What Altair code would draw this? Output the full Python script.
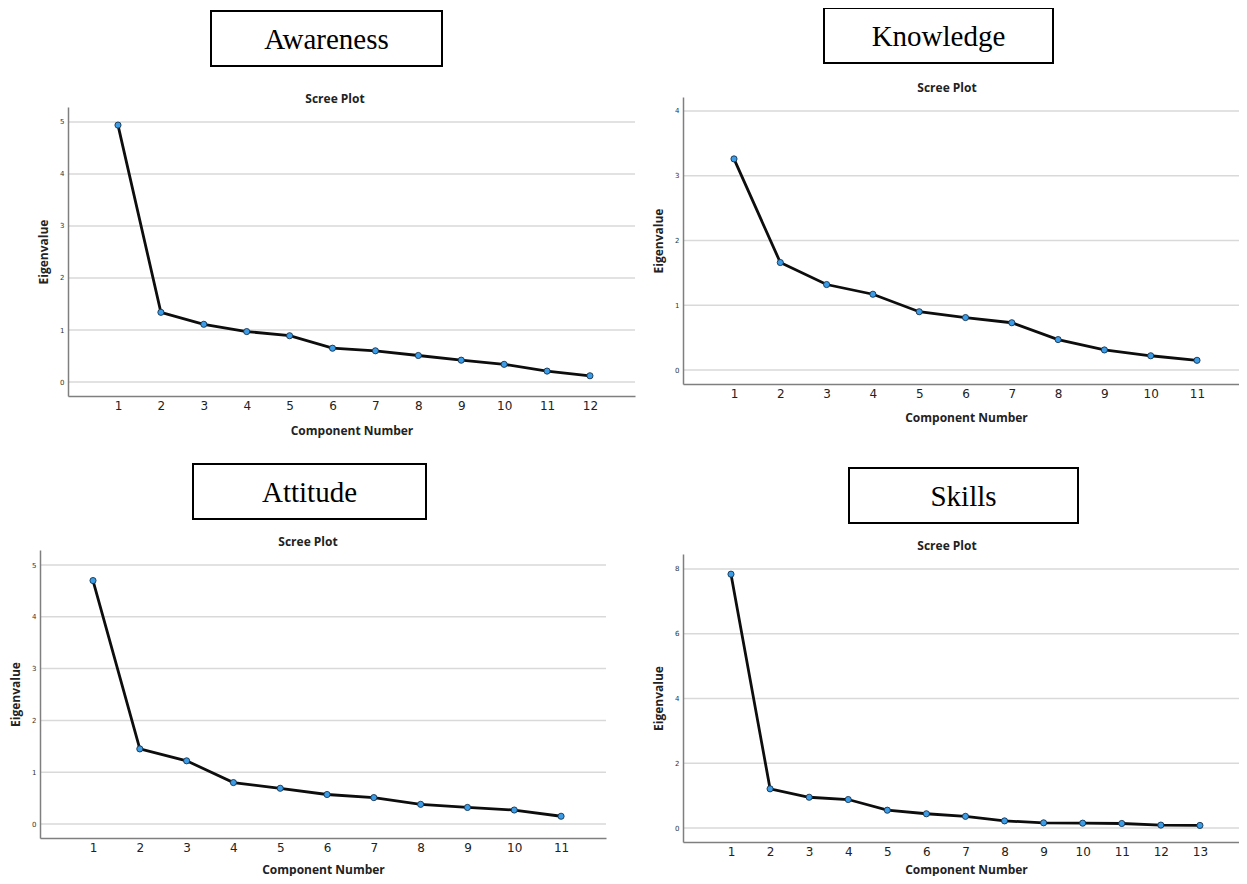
import altair as alt
import pandas as pd

# ---- data (eigenvalues per component) ----
awareness = [4.94, 1.34, 1.11, 0.97, 0.89, 0.65, 0.60, 0.51, 0.42, 0.34, 0.21, 0.12]
knowledge = [3.26, 1.66, 1.32, 1.17, 0.90, 0.81, 0.73, 0.47, 0.31, 0.22, 0.15]
attitude = [4.70, 1.45, 1.22, 0.80, 0.69, 0.57, 0.51, 0.38, 0.32, 0.27, 0.15]
skills = [7.84, 1.21, 0.95, 0.88, 0.55, 0.44, 0.36, 0.22, 0.16, 0.15, 0.14, 0.09, 0.08]

names = ["Awareness", "Knowledge", "Attitude", "Skills"]
series = [awareness, knowledge, attitude, skills]
y_ticks = [[0, 1, 2, 3, 4, 5], [0, 1, 2, 3, 4], [0, 1, 2, 3, 4, 5], [0, 2, 4, 6, 8]]
plot_title = "Scree Plot"
x_title = "Component Number"
y_title = "Eigenvalue"

# ---- layout / style (pixel geometry of each panel) ----
W, H = 1231, 868
layout = [
    dict(xr=[60, 627], xd=[-0.165, 13.05], yr=[388, 99], yd=[-0.269, 5.288],
         box=[203, 434, 3, 58], scree=(327, 91), cn_x=None, cn_y=38),
    dict(xr=[675, 1231], xd=[-0.1015, 11.907], yr=[376, 89], yd=[-0.216, 4.216],
         box=[816, 1045, 0, 55], scree=(939, 80), cn_x=958, cn_y=37),
    dict(xr=[32, 598], xd=[-0.1325, 11.96], yr=[830, 542], yd=[-0.27, 5.29],
         box=[185, 418, 456, 511], scree=(300, 534), cn_x=None, cn_y=35),
    dict(xr=[675, 1231], xd=[-0.228, 14.0], yr=[834, 546], yd=[-0.432, 8.463],
         box=[841, 1070, 460, 515], scree=(939, 538), cn_x=958, cn_y=31),
]

AXIS_COLOR = "#7f7f7f"
GRID_COLOR = "#d9d9d9"
TEXT_COLOR = "#222222"
BOLD_FONT = "Open Sans"


def panel_layers(name, vals, ticks, L):
    df = pd.DataFrame({"n": list(range(1, len(vals) + 1)), "ev": vals})
    gdf = pd.DataFrame({"v": ticks})
    xs = alt.Scale(domain=L["xd"], range=L["xr"], nice=False, zero=False)
    ys = alt.Scale(domain=L["yd"], range=L["yr"], nice=False, zero=False)

    xa = dict(orient="bottom", offset=L["yr"][0] - H, values=list(range(1, len(vals) + 1)),
              format="d", title=x_title, titleFont=BOLD_FONT, titleFontWeight="bold",
              titleFontSize=12, titleColor=TEXT_COLOR, titleY=L["cn_y"],
              titleBaseline="alphabetic",
              labelFont="DejaVu Sans", labelFontSize=12, labelColor=TEXT_COLOR,
              labelPadding=4, ticks=False, domainColor=AXIS_COLOR, domainWidth=1.5,
              grid=False, labelOverlap=False, labelFlush=False, zindex=1)
    if L["cn_x"] is not None:
        xa["titleX"] = L["cn_x"]
    ya = dict(orient="left", offset=-L["xr"][0], values=ticks, format="d",
              title=y_title, titleFont=BOLD_FONT, titleFontWeight="bold", titleFontSize=12,
              titleColor=TEXT_COLOR, titleX=-25, titleBaseline="middle",
              labelFont="DejaVu Sans", labelFontSize=7, labelColor="#333333",
              labelPadding=4, ticks=False, domainColor=AXIS_COLOR, domainWidth=1.5,
              grid=False, labelOverlap=False, labelFlush=False, zindex=1)

    grid = alt.Chart(gdf).mark_rule(color=GRID_COLOR, strokeWidth=1.5).encode(
        y=alt.Y("v:Q", scale=ys, axis=None),
        x=alt.XDatum(L["xd"][0], type="quantitative", scale=xs, axis=None),
        x2=alt.X2Datum(L["xd"][1]),
    )
    line = alt.Chart(df).mark_line(color="#0d0d0d", strokeWidth=2.8).encode(
        x=alt.X("n:Q", scale=xs, axis=alt.Axis(**xa)),
        y=alt.Y("ev:Q", scale=ys, axis=alt.Axis(**ya)),
    )
    pts = alt.Chart(df).mark_circle(size=38, color="#3c9ce6", stroke="#16324d",
                                    strokeWidth=0.9, opacity=1).encode(
        x=alt.X("n:Q", scale=xs, axis=None),
        y=alt.Y("ev:Q", scale=ys, axis=None),
    )
    b = L["box"]
    ldf = pd.DataFrame({"label": [name]})
    box = alt.Chart(ldf).mark_rect(fill="white", stroke="black", strokeWidth=2).encode(
        x=alt.value(b[0]), x2=alt.value(b[1]), y=alt.value(b[2]), y2=alt.value(b[3]))
    label = alt.Chart(ldf).mark_text(font="Liberation Serif", fontSize=29, color="black",
                                     align="center", baseline="middle").encode(
        x=alt.value((b[0] + b[1]) / 2), y=alt.value((b[2] + b[3]) / 2 + 1.5), text="label:N")
    sdf = pd.DataFrame({"t": [plot_title]})
    scree = alt.Chart(sdf).mark_text(font=BOLD_FONT, fontWeight="bold", fontSize=12,
                                     color=TEXT_COLOR, align="center", baseline="middle").encode(
        x=alt.value(L["scree"][0]), y=alt.value(L["scree"][1]), text="t:N")
    return [grid, line, pts, box, label, scree]


layers = []
for n, s, t, L in zip(names, series, y_ticks, layout):
    layers.extend(panel_layers(n, s, t, L))

chart = (
    alt.layer(*layers)
    .resolve_scale(x="independent", y="independent")
    .resolve_axis(x="independent", y="independent")
    .properties(width=W, height=H, autosize=alt.AutoSizeParams(type="none"), padding=0,
                background="white")
    .configure_view(stroke="transparent")
)

chart.save("out.html", embed_options={"renderer": "svg", "actions": False})
